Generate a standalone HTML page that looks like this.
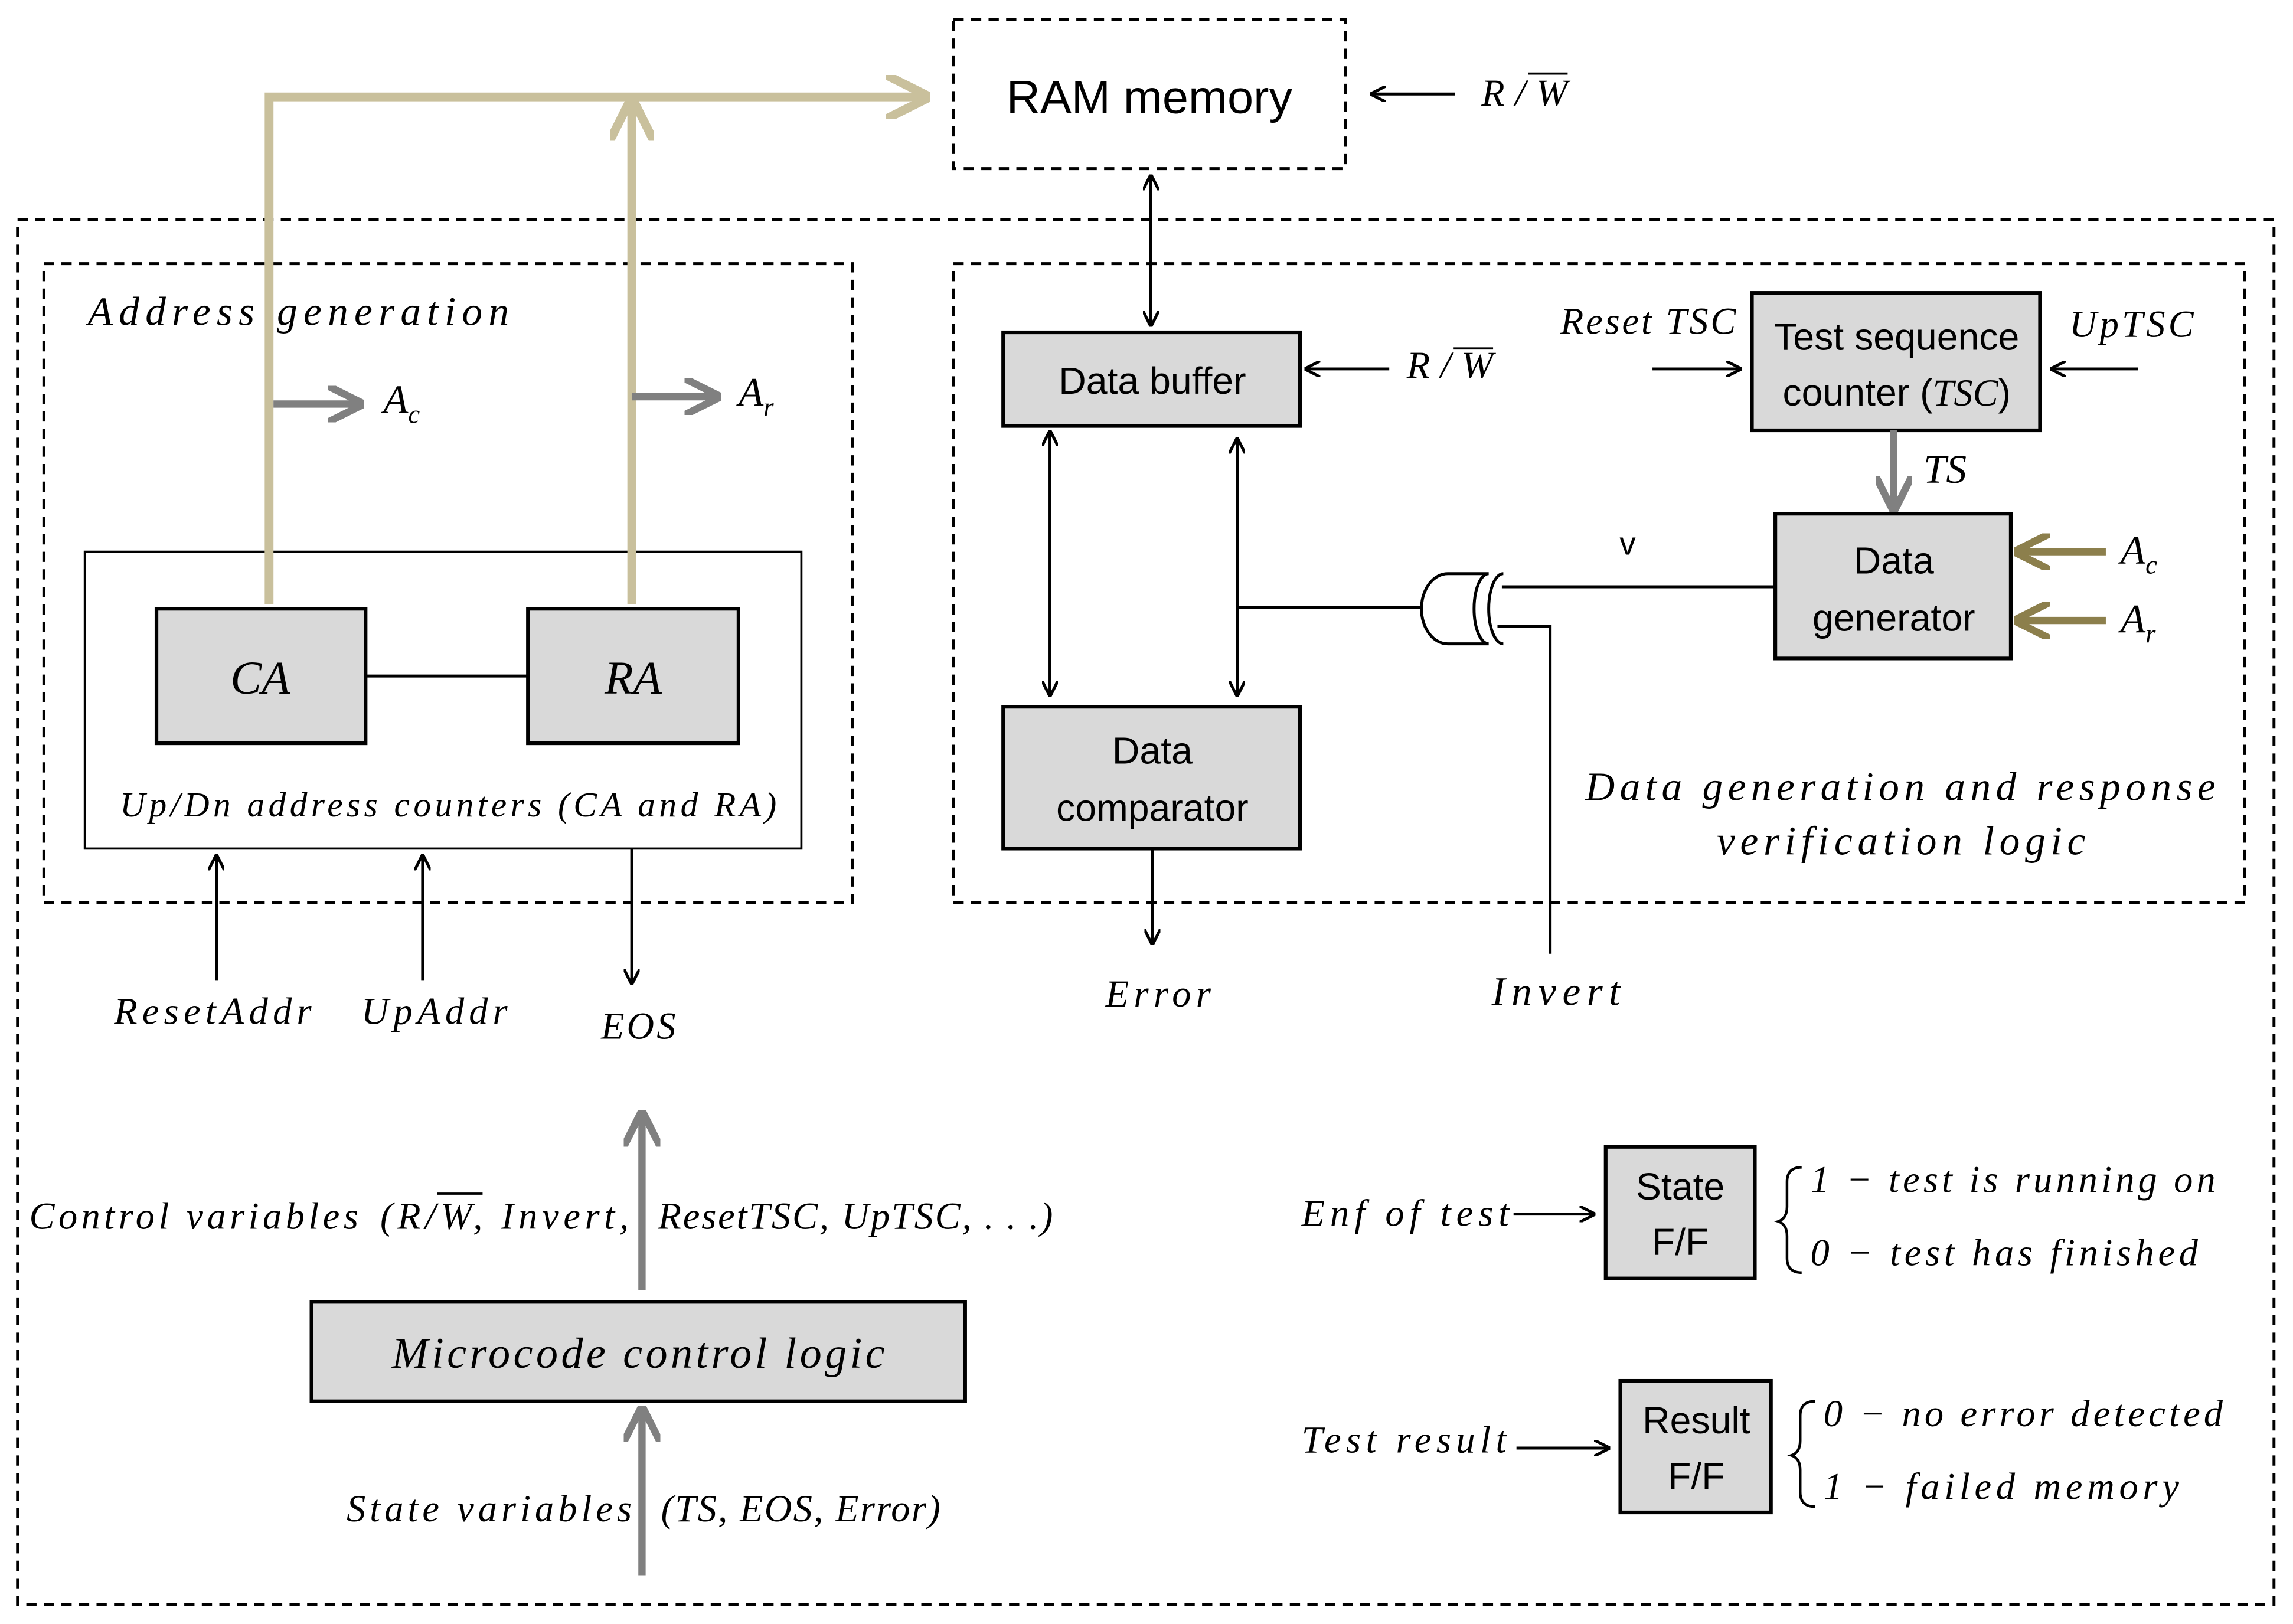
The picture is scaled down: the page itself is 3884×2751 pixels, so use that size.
<!DOCTYPE html>
<html><head><meta charset="utf-8"><style>
html,body{margin:0;padding:0;background:#fff}
svg{display:block}
.s{font-family:"Liberation Sans",sans-serif}
.i{font-family:"Liberation Serif",serif;font-style:italic}
</style></head><body>
<svg width="3884" height="2751" viewBox="0 0 1568 1110" xmlns="http://www.w3.org/2000/svg">
<defs>
<marker id="a" viewBox="0 0 10 10" refX="9" refY="5" markerWidth="11" markerHeight="11" markerUnits="userSpaceOnUse" orient="auto-start-reverse"><path d="M0,0 L10,5 L0,10" fill="none" stroke="#000" stroke-width="1.8"/></marker>
<marker id="g" viewBox="0 0 10 10" refX="8" refY="5" markerWidth="5" markerHeight="5" orient="auto"><path d="M0,0 L10,5 L0,10" fill="none" stroke="#808080" stroke-width="2"/></marker>
<marker id="t" viewBox="0 0 10 10" refX="8" refY="5" markerWidth="5" markerHeight="5" orient="auto"><path d="M0,0 L10,5 L0,10" fill="none" stroke="#c9c09c" stroke-width="2"/></marker>
<marker id="o" viewBox="0 0 10 10" refX="8" refY="5" markerWidth="5" markerHeight="5" orient="auto"><path d="M0,0 L10,5 L0,10" fill="none" stroke="#8c7f4c" stroke-width="2"/></marker>
</defs>
<g fill="none" stroke="#000" stroke-width="2" stroke-dasharray="7,5">
<rect x="12" y="150" width="1543" height="947"/>
<rect x="652" y="13" width="268" height="102"/>
<rect x="30" y="180" width="553" height="437"/>
<rect x="652" y="180" width="883" height="437"/>
</g>
<text x="786" y="77" class="s" font-size="32" text-anchor="middle">RAM memory</text>
<line x1="995" y1="64" x2="938" y2="64" stroke="#000" stroke-width="2" marker-end="url(#a)"/>
<text x="1013" y="72" class="i" font-size="26" textLength="59" lengthAdjust="spacing">R/W</text>
<line x1="1045" y1="50" x2="1072" y2="50" stroke="#000" stroke-width="1.5"/>
<!-- address generation -->
<text x="60" y="222" class="i" font-size="28" textLength="288" lengthAdjust="spacing">Address  generation</text>
<rect x="58" y="377" width="490" height="203" fill="none" stroke="#000" stroke-width="1.5"/>
<rect x="107" y="416" width="143" height="92" fill="#d9d9d9" stroke="#000" stroke-width="2.5"/>
<rect x="361" y="416" width="144" height="92" fill="#d9d9d9" stroke="#000" stroke-width="2.5"/>
<text x="178" y="474" class="i" font-size="32" text-anchor="middle">CA</text>
<text x="433" y="474" class="i" font-size="32" text-anchor="middle">RA</text>
<line x1="250" y1="462" x2="361" y2="462" stroke="#000" stroke-width="2"/>
<text x="82" y="558" class="i" font-size="24" textLength="449" lengthAdjust="spacing">Up/Dn address counters (CA and RA)</text>
<g stroke="#c9c09c" stroke-width="6" fill="none">
<polyline points="184,413 184,66 630,66" marker-end="url(#t)"/>
<line x1="432" y1="413" x2="432" y2="72" marker-end="url(#t)"/>
</g>
<g stroke="#808080" stroke-width="5">
<line x1="187" y1="276" x2="244" y2="276" marker-end="url(#g)"/>
<line x1="432" y1="271" x2="488" y2="271" marker-end="url(#g)"/>
</g>
<text x="262" y="282" class="i" font-size="28">A<tspan font-size="18" dy="7">c</tspan></text>
<text x="505" y="277" class="i" font-size="28">A<tspan font-size="18" dy="7">r</tspan></text>
<g stroke="#000" stroke-width="2">
<line x1="148" y1="670" x2="148" y2="585" marker-end="url(#a)"/>
<line x1="289" y1="670" x2="289" y2="585" marker-end="url(#a)"/>
<line x1="432" y1="580" x2="432" y2="672" marker-end="url(#a)"/>
</g>
<text x="78" y="700" class="i" font-size="26" textLength="135" lengthAdjust="spacing">ResetAddr</text>
<text x="247" y="700" class="i" font-size="26" textLength="100" lengthAdjust="spacing">UpAddr</text>
<text x="411" y="710" class="i" font-size="26" textLength="51" lengthAdjust="spacing">EOS</text>
<!-- data side -->
<g stroke="#000" stroke-width="2">
<line x1="787" y1="120" x2="787" y2="222" marker-start="url(#a)" marker-end="url(#a)"/>
<line x1="718" y1="295" x2="718" y2="475" marker-start="url(#a)" marker-end="url(#a)"/>
<line x1="846" y1="300" x2="846" y2="475" marker-start="url(#a)" marker-end="url(#a)"/>
<line x1="950" y1="252" x2="893" y2="252" marker-end="url(#a)"/>
<line x1="788" y1="580" x2="788" y2="645" marker-end="url(#a)"/>
<line x1="846" y1="415" x2="973" y2="415"/>
<line x1="1027" y1="401" x2="1214" y2="401"/>
<polyline points="1024,428 1060,428 1060,652" fill="none"/>
<line x1="1130" y1="252" x2="1190" y2="252" marker-end="url(#a)"/>
<line x1="1462" y1="252" x2="1403" y2="252" marker-end="url(#a)"/>
<line x1="1035" y1="830" x2="1090" y2="830" marker-end="url(#a)"/>
<line x1="1037" y1="990" x2="1100" y2="990" marker-end="url(#a)"/>
</g>
<path d="M1018,392 L990,392 A18,24 0 0 0 990,440 L1018,440 A10,24 0 0 1 1018,392 Z" fill="#fff" stroke="#000" stroke-width="2"/>
<path d="M1028,392 A10,24 0 0 0 1028,440" fill="none" stroke="#000" stroke-width="2"/>
<rect x="686" y="227" width="203" height="64" fill="#d9d9d9" stroke="#000" stroke-width="2.5"/>
<text x="788" y="269" class="s" font-size="26" text-anchor="middle">Data buffer</text>
<text x="962" y="258" class="i" font-size="26" textLength="59" lengthAdjust="spacing">R/W</text>
<line x1="994" y1="238" x2="1021" y2="238" stroke="#000" stroke-width="1.5"/>
<rect x="686" y="483" width="203" height="97" fill="#d9d9d9" stroke="#000" stroke-width="2.5"/>
<text x="788" y="522" class="s" font-size="26" text-anchor="middle">Data</text>
<text x="788" y="561" class="s" font-size="26" text-anchor="middle">comparator</text>
<text x="756" y="688" class="i" font-size="26" textLength="72" lengthAdjust="spacing">Error</text>
<text x="1020" y="687" class="i" font-size="28" textLength="88" lengthAdjust="spacing">Invert</text>
<text x="1113" y="379" class="s" font-size="22" text-anchor="middle">v</text>
<rect x="1198" y="200" width="197" height="94" fill="#d9d9d9" stroke="#000" stroke-width="2.5"/>
<text x="1297" y="239" class="s" font-size="26" text-anchor="middle">Test sequence</text>
<text x="1297" y="277" class="s" font-size="26" text-anchor="middle">counter (<tspan class="i">TSC</tspan>)</text>
<text x="1067" y="228" class="i" font-size="26" textLength="120" lengthAdjust="spacing">Reset TSC</text>
<text x="1415" y="230" class="i" font-size="26" textLength="85" lengthAdjust="spacing">UpTSC</text>
<line x1="1295" y1="294" x2="1295" y2="345" stroke="#808080" stroke-width="5" marker-end="url(#g)"/>
<text x="1330" y="330" class="i" font-size="28" text-anchor="middle">TS</text>
<rect x="1214" y="351" width="161" height="99" fill="#d9d9d9" stroke="#000" stroke-width="2.5"/>
<text x="1295" y="392" class="s" font-size="26" text-anchor="middle">Data</text>
<text x="1295" y="431" class="s" font-size="26" text-anchor="middle">generator</text>
<g stroke="#8c7f4c" stroke-width="5">
<line x1="1440" y1="377" x2="1382" y2="377" marker-end="url(#o)"/>
<line x1="1440" y1="424" x2="1382" y2="424" marker-end="url(#o)"/>
</g>
<text x="1450" y="385" class="i" font-size="28">A<tspan font-size="18" dy="7">c</tspan></text>
<text x="1450" y="432" class="i" font-size="28">A<tspan font-size="18" dy="7">r</tspan></text>
<text x="1084" y="547" class="i" font-size="28" textLength="431" lengthAdjust="spacing">Data generation and response</text>
<text x="1174" y="584" class="i" font-size="28" textLength="252" lengthAdjust="spacing">verification logic</text>
<!-- control -->
<g stroke="#808080" stroke-width="5">
<line x1="439" y1="882" x2="439" y2="764" marker-end="url(#g)"/>
<line x1="439" y1="1077" x2="439" y2="966" marker-end="url(#g)"/>
</g>
<text x="20" y="840" class="i" font-size="26" textLength="225" lengthAdjust="spacing">Control variables</text>
<text x="260" y="840" class="i" font-size="26" textLength="170" lengthAdjust="spacing">(R/W, Invert,</text>
<text x="450" y="840" class="i" font-size="26" textLength="270" lengthAdjust="spacing">ResetTSC, UpTSC, . . .)</text>
<line x1="299" y1="816" x2="330" y2="816" stroke="#000" stroke-width="1.5"/>
<rect x="213" y="890" width="447" height="68" fill="#d9d9d9" stroke="#000" stroke-width="2.5"/>
<text x="268" y="935" class="i" font-size="30" textLength="337" lengthAdjust="spacing">Microcode control logic</text>
<text x="237" y="1040" class="i" font-size="26" textLength="195" lengthAdjust="spacing">State variables</text>
<text x="452" y="1040" class="i" font-size="26" textLength="191" lengthAdjust="spacing">(TS, EOS, Error)</text>
<text x="890" y="838" class="i" font-size="26" textLength="142" lengthAdjust="spacing">Enf of test</text>
<rect x="1098" y="784" width="102" height="90" fill="#d9d9d9" stroke="#000" stroke-width="2.5"/>
<text x="1149" y="820" class="s" font-size="26" text-anchor="middle">State</text>
<text x="1149" y="858" class="s" font-size="26" text-anchor="middle">F/F</text>
<path d="M1232,798 Q1222,798 1222,808 L1222,825 Q1222,833 1216,835 Q1222,837 1222,845 L1222,860 Q1222,870 1232,870" fill="none" stroke="#000" stroke-width="1.8"/>
<text x="1238" y="815" class="i" font-size="26" textLength="277" lengthAdjust="spacing">1 − test is running on</text>
<text x="1238" y="865" class="i" font-size="26" textLength="265" lengthAdjust="spacing">0 − test has finished</text>
<text x="890" y="993" class="i" font-size="26" textLength="140" lengthAdjust="spacing">Test result</text>
<rect x="1108" y="944" width="103" height="90" fill="#d9d9d9" stroke="#000" stroke-width="2.5"/>
<text x="1160" y="980" class="s" font-size="26" text-anchor="middle">Result</text>
<text x="1160" y="1018" class="s" font-size="26" text-anchor="middle">F/F</text>
<path d="M1241,958 Q1231,958 1231,968 L1231,985 Q1231,993 1225,995 Q1231,997 1231,1005 L1231,1020 Q1231,1030 1241,1030" fill="none" stroke="#000" stroke-width="1.8"/>
<text x="1247" y="975" class="i" font-size="26" textLength="273" lengthAdjust="spacing">0 − no error detected</text>
<text x="1247" y="1025" class="i" font-size="26" textLength="243" lengthAdjust="spacing">1 − failed memory</text>
</svg>
</body></html>
